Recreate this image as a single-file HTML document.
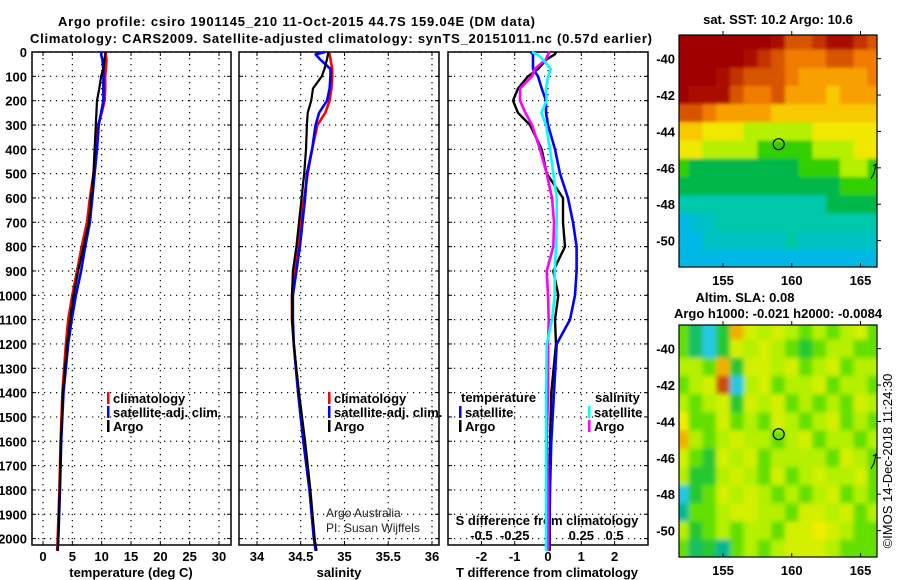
<!DOCTYPE html>
<html><head><meta charset="utf-8"><style>
html,body{margin:0;padding:0;background:#fff;}
svg{display:block;font-family:"Liberation Sans",Arial,sans-serif;}
.b{font-weight:bold;font-size:13px;fill:#000;}
</style></head><body>
<svg id="fig" width="900" height="580" viewBox="0 0 900 580">
<defs><filter id="soft" x="-10%" y="-10%" width="120%" height="120%"><feGaussianBlur stdDeviation="2.5" edgeMode="duplicate"/></filter>
<filter id="soft2" x="-10%" y="-10%" width="120%" height="120%"><feGaussianBlur stdDeviation="1.5" edgeMode="duplicate"/></filter></defs>
<text class="b" x="58" y="26" font-size="14" textLength="477">Argo profile: csiro 1901145_210 11-Oct-2015 44.7S 159.04E (DM data)</text>
<text class="b" x="30" y="43" font-size="14" textLength="622">Climatology: CARS2009. Satellite-adjusted climatology: synTS_20151011.nc (0.57d earlier)</text>
<g id="layer"></g>
</svg>
<script>
// ---- data ----
const depths=[0,10,30,70,100,150,200,250,300,400,500,600,700,800,900,1000,1100,1200,1400,1600,1800,2000,2050];
const tempClim=[10.6,10.7,10.8,10.7,10.6,10.6,10.5,10.0,9.4,9.0,8.6,8.0,7.5,6.6,5.8,5.0,4.3,3.9,3.3,3.0,2.8,2.5,2.4];
const tempSat=[10.0,9.9,10.1,10.3,10.3,10.3,10.3,9.9,9.5,9.2,8.8,8.4,8.0,7.2,6.5,5.6,4.9,4.3,3.5,3.1,2.9,2.6,2.5];
const tempArgo=[10.75,10.6,10.5,10.3,9.9,9.6,9.2,9.1,9.0,8.8,8.6,8.2,7.8,6.9,6.0,5.2,4.6,4.1,3.4,3.05,2.85,2.6,2.5];
const salClim=[34.82,34.83,34.84,34.86,34.86,34.85,34.83,34.78,34.69,34.63,34.58,34.54,34.50,34.47,34.42,34.40,34.40,34.42,34.47,34.53,34.60,34.65,34.68];
const salSat=[34.78,34.67,34.72,34.84,34.84,34.83,34.80,34.71,34.67,34.63,34.57,34.55,34.52,34.49,34.45,34.41,34.41,34.42,34.47,34.53,34.60,34.65,34.67];
const salArgo=[34.82,34.81,34.80,34.77,34.74,34.64,34.62,34.58,34.57,34.56,34.54,34.51,34.48,34.45,34.41,34.40,34.40,34.42,34.48,34.55,34.61,34.66,34.68];
const dTArgo=[0.25,0.2,-0.04,-0.3,-0.6,-0.9,-1.05,-0.9,-0.54,-0.19,-0.04,0.45,0.45,0.51,0.16,0.31,0.21,0.24,0.1,0.06,0.05,0.05,0.05];
const dTSat=[-0.52,-0.45,-0.45,-0.45,-0.3,-0.19,-0.06,-0.06,0.0,0.21,0.36,0.6,0.75,0.86,0.86,0.81,0.66,0.26,0.18,0.1,0.06,0.04,0.03];
const dSArgo=[0.015,0.0,-0.015,-0.1,-0.12,-0.21,-0.21,-0.17,-0.12,-0.06,-0.01,0.03,0.045,0.04,-0.01,0.0,0.005,0.0,0.0,-0.01,0.0,0.0,0.0];
const dSSat=[-0.12,-0.08,-0.04,0.02,0.0,-0.015,-0.01,-0.05,-0.015,0.015,0.04,0.065,0.065,0.06,0.05,0.05,0.03,-0.01,-0.015,-0.015,-0.015,-0.015,-0.015];
const depthTicks=[0,100,200,300,400,500,600,700,800,900,1000,1100,1200,1300,1400,1500,1600,1700,1800,1900,2000];
const tempTicks=[0,5,10,15,20,25,30];
const salTicks=["34","34.5","35","35.5","36"];
const dTTicks=["-2","-1","0","1","2"];
const dSTicks=["-0.5","-0.25","0","0.25","0.5"];
// SST map (rows lat -39..-51, cols lon 152..166)
const mapLons=[152,153,154,155,156,157,158,159,160,161,162,163,164,165,166];
const mapLats=[-39,-40,-41,-42,-43,-44,-45,-46,-47,-48,-49,-50,-51];
const sst=[
[15.5,15.5,15.5,15.5,15.5,15.5,15.5,15,14,14,14.5,15,15,14.5,14],
[15.5,15.5,15.5,15.5,15.5,15,14.5,14,13.5,13.5,13.5,14,14,13.5,13.5],
[15.5,15.5,15.5,15,14.5,14,14,14,13.5,13,13,13,13,13,13.5],
[15.5,15,15,15,14,13.5,13.5,14,13,13,13,12.5,13,13,13],
[14,14,13.5,13,13,13,13,12.5,12.5,12.5,12.5,12.5,12.5,12.5,12.5],
[12.5,12.5,12,12,12,11.5,11.5,11.5,11.5,11.5,12,12,12,12,12],
[12,12,11.5,11.5,11.5,11.5,11,11,11,11,11.5,11.5,11.5,12,12],
[11,10.5,10.5,10.5,10.5,10.5,10.5,10.5,10.5,11,11,11,11.5,11.5,11],
[10.5,10.5,10.5,10.5,10.5,10.5,10.5,10.5,10.5,10.5,10.5,10.5,11,11,11],
[10,10,10,10,10,10,10,10,10,10,10,10.5,10.5,10.5,10.5],
[9.5,9.7,9.8,10,10,10,10,10,10,10,10,10,10,10,10],
[9.5,9.5,9.8,9.8,9.8,9.8,9.8,9.8,10,9.8,9.8,9.8,9.8,9.8,9.8],
[9.5,9.5,9.5,9.5,9.5,9.5,9.5,9.5,9.5,9.5,9.5,9.5,9.5,9.5,9.5]];
const sla=[
[-0.05,-0.15,-0.3,-0.1,0.15,0.05,0,0.05,0,-0.05,0,-0.05,0,0.05,-0.05],
[-0.05,-0.15,-0.3,-0.1,0.05,0,0.05,0,-0.05,-0.1,-0.05,0,0,-0.05,-0.05],
[0,0,-0.05,0.15,-0.1,0.05,0.05,0,0.05,-0.05,0,0.05,-0.05,0,0],
[-0.05,0,0.05,0.25,-0.3,0,0.05,-0.05,0,0,0.05,-0.05,0,0,-0.05],
[0,-0.05,0,0.05,-0.1,0.05,0,0.05,-0.05,0,-0.05,0,-0.05,0.05,0],
[0.1,-0.05,-0.05,0.05,-0.05,0,-0.05,0.05,0,-0.05,0,0.05,-0.05,0,-0.05],
[0.15,0,-0.05,0,0.05,0,0,-0.05,0,0.05,-0.05,0,0,-0.05,0],
[0.05,-0.05,-0.1,0.05,0,0.05,-0.05,0,0,0,0,-0.05,0.05,0,-0.05],
[0,-0.1,-0.1,0,0.05,0,-0.05,0.05,-0.05,0,0.05,0,0,0.05,-0.05],
[-0.3,-0.1,-0.05,0.05,0,0.05,0,-0.05,0,-0.05,0,0.05,-0.05,0,-0.05],
[-0.2,-0.05,-0.05,0,0.05,0.05,0,0,-0.05,0.05,0.05,0,0.05,-0.05,0],
[0,-0.1,-0.05,0,-0.05,0,0,-0.05,0.05,0.05,0.1,0.05,0,-0.05,-0.05],
[-0.05,-0.15,-0.1,-0.2,-0.05,0,-0.05,0,0.05,0.05,0.05,0,-0.05,-0.05,-0.05]];
const floatLon=159.05, floatLat=-44.7;
const mapLonTicks=[155,160,165];
const mapLatTicks=[-40,-42,-44,-46,-48,-50];

// ---- helpers ----
const NS="http://www.w3.org/2000/svg";
const L=document.getElementById('layer');
function mk(tag,attrs,parent){const e=document.createElementNS(NS,tag);for(const k in attrs)e.setAttribute(k,attrs[k]);(parent||L).appendChild(e);return e;}
const TOP=52,BOT=545;
const yD=d=>TOP+d*0.2433;
function xLin(v0,p0,v1,p1){return v=>p0+(v-v0)*(p1-p0)/(v1-v0);}
const panels=[
 {name:'temperature',x0:32,x1:231,xs:xLin(0,43,30,219)},
 {name:'salinity',x0:239,x1:439,xs:xLin(34,257,36,432)},
 {name:'difference',x0:448,x1:648,xs:xLin(0,548,1,581.3)}];
const dsScale=xLin(0,548,0.25,581.3);

panels.forEach((p,pi)=>{
  const g=mk('g',{});
  
  
  const gx = pi===0? tempTicks.map(p.xs) : pi===1? salTicks.map(s=>p.xs(parseFloat(s))) : dTTicks.map(s=>p.xs(parseFloat(s)));
  gx.forEach(x=>{const l=mk('line',{x1:x,x2:x,y1:TOP,y2:BOT,stroke:'#000','stroke-width':1.2,'stroke-dasharray':'1.2,4.8'},g);
    
    mk('line',{x1:x,x2:x,y1:TOP,y2:TOP+4,stroke:'#000'},g);mk('line',{x1:x,x2:x,y1:BOT,y2:BOT-4,stroke:'#000'},g);});
  depthTicks.forEach(d=>{const y=yD(d);
    const l=mk('line',{x1:p.x0,x2:p.x1,y1:y,y2:y,stroke:'#000','stroke-width':1.2,'stroke-dasharray':'1.2,4.8'},g);
    
    mk('line',{x1:p.x0,x2:p.x0+4,y1:y,y2:y,stroke:'#000'},g);mk('line',{x1:p.x1,x2:p.x1-4,y1:y,y2:y,stroke:'#000'},g);});
  const fr=mk('rect',{x:p.x0,y:TOP,width:p.x1-p.x0,height:BOT-TOP,fill:'none',stroke:'#000','stroke-width':1.5},g);
  
});
depthTicks.forEach(d=>{const t=mk('text',{x:27,y:yD(d)+5,'text-anchor':'end',class:'b'});t.textContent=d;
  });
function xlab(arr,fn,y,nm){arr.forEach(v=>{const t=mk('text',{x:fn(v),y:y,'text-anchor':'middle',class:'b'});t.textContent=v;
  });}
xlab(tempTicks,panels[0].xs,561,'temperature-tick-label');
xlab(salTicks,s=>panels[1].xs(parseFloat(s)),561,'salinity-tick-label');
xlab(dTTicks,s=>panels[2].xs(parseFloat(s)),561,'t-diff-tick-label');
xlab(dSTicks,s=>dsScale(parseFloat(s)),540,'s-diff-tick-label');
function txt(x,y,s,nm,extra){const t=mk('text',Object.assign({x:x,y:y,class:'b'},extra||{}));t.textContent=s;
  return t;}
txt(131,577,'temperature (deg C)','temperature-axis-title',{'text-anchor':'middle'});
txt(339,577,'salinity','salinity-axis-title',{'text-anchor':'middle'});
txt(547,577,'T difference from climatology','t-diff-axis-title',{'text-anchor':'middle'});
txt(547,525,'S difference from climatology','s-diff-axis-title',{'text-anchor':'middle'});
function line(xs,vals,color,nm,w){
  const pts=vals.map((v,i)=>xs(v).toFixed(1)+','+yD(depths[i]).toFixed(1)).join(' ');
  const p=mk('polyline',{points:pts,fill:'none',stroke:color,'stroke-width':w||2.6,'stroke-linejoin':'round'});
  }
line(panels[0].xs,tempClim,'#ff0000','temperature-climatology-line');
line(panels[0].xs,tempSat,'#0000ff','temperature-satellite-line');
line(panels[0].xs,tempArgo,'#000000','temperature-argo-line',2.2);
line(panels[1].xs,salClim,'#ff0000','salinity-climatology-line');
line(panels[1].xs,salSat,'#0000ff','salinity-satellite-line');
line(panels[1].xs,salArgo,'#000000','salinity-argo-line',2.2);
line(panels[2].xs,dTArgo,'#000000','t-diff-argo-line',2.4);
line(panels[2].xs,dTSat,'#0000ff','t-diff-satellite-line');
line(dsScale,dSArgo,'#ff00ff','s-diff-argo-line');
line(dsScale,dSSat,'#00ffff','s-diff-satellite-line');
function leg(x,y,color,s,nm){const r=mk('rect',{x:x,y:y-6,width:2.5,height:12,fill:color});
  
  txt(x+6,y+5,s,nm);}
[[32+75],[239+89]].forEach(a=>{
  leg(a[0],398,'#ff0000','climatology','legend-climatology');
  leg(a[0],412,'#0000ff','satellite-adj. clim.','legend-satellite');
  leg(a[0],426,'#000000','Argo','legend-argo');});
txt(461,402,'temperature','legend-temperature-header');
leg(459,412,'#0000ff','satellite','legend-t-satellite');
leg(459,426,'#000000','Argo','legend-t-argo');
txt(595,402,'salinity','legend-salinity-header');
leg(588,412,'#00ffff','satellite','legend-s-satellite');
leg(588,426,'#ff00ff','Argo','legend-s-argo');
txt(326,517,'Argo Australia','credit-argo-australia',{class:'',style:'font-size:12px;fill:#222'});
txt(326,532,'PI: Susan Wijffels','credit-pi',{class:'',style:'font-size:12px;fill:#222'});

// ---- maps ----
const MX0=679,MX1=877,LON0=151.8,LON1=166.2;
const mx=xLin(LON0,MX0,LON1,MX1);
function sstColor(v){
  const st=[[9,[0,96,224]],[9.5,[0,184,230]],[10,[0,200,170]],[10.5,[0,184,72]],[11,[48,208,0]],[11.5,[180,240,0]],[12,[240,232,0]],[12.5,[248,200,0]],[13,[248,160,0]],[13.5,[240,124,0]],[14,[216,84,0]],[14.5,[196,48,0]],[15,[170,10,0]],[15.5,[160,0,0]]];
  return interp(st,v);}
function slaColor(v){
  const st=[[-0.3,[40,200,225]],[-0.2,[0,184,150]],[-0.1,[40,200,50]],[-0.05,[100,224,0]],[0,[180,240,0]],[0.05,[210,240,0]],[0.1,[240,236,0]],[0.15,[240,176,0]],[0.25,[200,80,16]]];
  return interp(st,v);}
function interp(st,v){if(v<=st[0][0])return 'rgb('+st[0][1]+')';
  for(let i=1;i<st.length;i++){if(v<=st[i][0]){const f=(v-st[i-1][0])/(st[i][0]-st[i-1][0]);
    const c=st[i-1][1].map((a,k)=>Math.round(a+(st[i][1][k]-a)*f));return 'rgb('+c+')';}}
  return 'rgb('+st[st.length-1][1]+')';}
function drawMap(top,bot,grid,colorFn,nm,filt){
  const LAT0=-38.7,LAT1=-51.45;
  const my=xLin(LAT0,top,LAT1,bot);
  const g=mk('g',{});
  const cpath=mk('clipPath',{id:nm+'-clip'},g);
  mk('rect',{x:MX0,y:top,width:MX1-MX0,height:bot-top},cpath);
  const outer=mk('g',{'clip-path':'url(#'+nm+'-clip)'},g);
  const cg=mk('g',{filter:'url(#'+filt+')'},outer);
  grid.forEach((row,ri)=>row.forEach((v,ci)=>{
    const ext=(ci===0?1:0), exr=(ci===row.length-1?1:0), ext2=(ri===0?1:0), exb=(ri===grid.length-1?1:0);
    const x0=mx(mapLons[ci]-0.5-ext),x1=mx(mapLons[ci]+0.5+exr),y0=my(mapLats[ri]+0.5+ext2),y1=my(mapLats[ri]-0.5-exb);
    const r=mk('rect',{x:x0.toFixed(1),y:y0.toFixed(1),width:(x1-x0+0.6).toFixed(1),height:(y1-y0+0.6).toFixed(1),fill:colorFn(v)},cg);
    }));
  mk('polyline',{points:'873,'+my(-45.9)+' 876,'+my(-45.8)+' 874,'+my(-46.3)+' 871,'+my(-46.6),fill:'none',stroke:'#000','stroke-width':1},g);
  const c=mk('circle',{cx:mx(floatLon),cy:my(floatLat),r:5.5,fill:'none',stroke:'#000','stroke-width':1.2},g);
  
  const fr=mk('rect',{x:MX0,y:top,width:MX1-MX0,height:bot-top,fill:'none',stroke:'#000','stroke-width':1.2},g);
  
  mapLonTicks.forEach(lo=>{mk('line',{x1:mx(lo),x2:mx(lo),y1:top-4,y2:top,stroke:'#000'},g);mk('line',{x1:mx(lo),x2:mx(lo),y1:bot,y2:bot-4,stroke:'#000'},g);
    txt(mx(lo),bot+18,lo,'map-lon-tick-label',{'text-anchor':'middle'});});
  mapLatTicks.forEach(la=>{mk('line',{x1:MX1,x2:MX1+4,y1:my(la),y2:my(la),stroke:'#000'},g);
    txt(675,my(la)+5,la,'map-lat-tick-label',{'text-anchor':'end'});});
}
drawMap(35,267,sst,sstColor,'sst-map','soft2');
drawMap(325,557,sla,slaColor,'sla-map','soft');
txt(778,24,'sat. SST: 10.2 Argo: 10.6','sst-map-title',{'text-anchor':'middle'});
txt(745,302,'Altim. SLA: 0.08','sla-map-title',{'text-anchor':'middle'});
txt(778,318,'Argo h1000: -0.021 h2000: -0.0084','sla-map-subtitle',{'text-anchor':'middle'});
txt(892,461,'©IMOS 14-Dec-2018 11:24:30','timestamp-credit',{class:'',style:'font-size:13px;fill:#000','text-anchor':'middle',transform:'rotate(-90 892 461)'});
</script>
</body></html>
